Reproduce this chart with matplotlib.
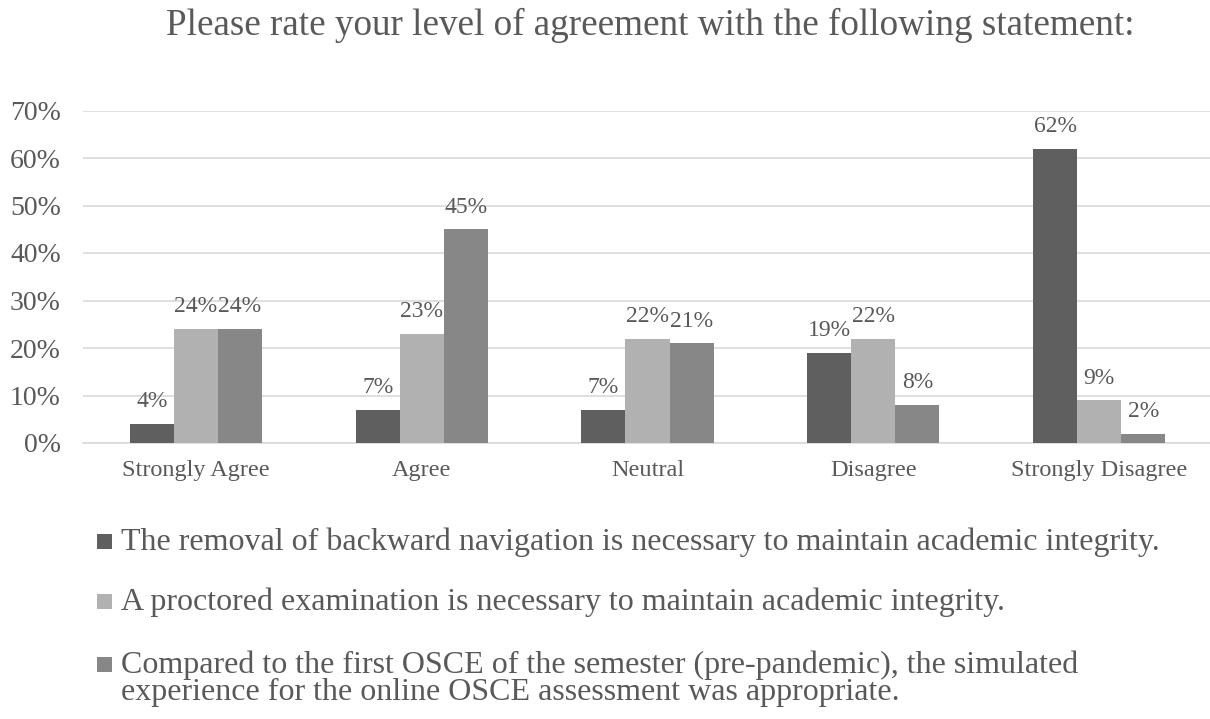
import matplotlib.pyplot as plt
import numpy as np
from matplotlib.patches import Rectangle

plt.rcParams["font.family"] = ["Liberation Serif", "DejaVu Serif"]

categories = ["Strongly Agree", "Agree", "Neutral", "Disagree", "Strongly Disagree"]
series_labels = [
    "The removal of backward navigation is necessary to maintain academic integrity.",
    "A proctored examination is necessary to maintain academic integrity.",
    "Compared to the first OSCE of the semester (pre-pandemic), the simulated\n"
    "experience for the online OSCE assessment was appropriate.",
]
removal = [4, 7, 7, 19, 62]
proctored = [24, 23, 22, 22, 9]
osce = [24, 45, 21, 8, 2]
colors = ["#5f5f5f", "#b1b1b1", "#878787"]
text_col = "#595959"

W, H = 1210, 719
fig = plt.figure(figsize=(W / 100, H / 100), dpi=100)
# plot area in pixels: x 83..1212, y 110.5..443
ax = fig.add_axes([83 / W, (H - 443) / H, 1129 / W, 332.5 / H])

x = np.arange(len(categories))
bw = 0.195
for i, (vals, c) in enumerate(zip([removal, proctored, osce], colors)):
    pos = x + (i - 1) * bw
    ax.bar(pos, vals, width=bw, color=c, zorder=3)
    for p, v in zip(pos, vals):
        ax.annotate(f"{v}%", (p, v), xytext=(0, 12), textcoords="offset points",
                    ha="center", va="baseline", fontsize=17, color=text_col)

ax.set_xlim(-0.5, 4.5)
ax.set_ylim(0, 70)
ax.set_yticks(range(0, 71, 10))
ax.set_yticklabels([f"{v}%" for v in range(0, 71, 10)])
ax.set_xticks(x)
ax.set_xticklabels(categories)
ax.tick_params(axis="y", length=0, labelsize=20, labelcolor=text_col, pad=16)
ax.tick_params(axis="x", length=0, labelsize=17.5, labelcolor=text_col, pad=12)
ax.grid(axis="y", color="#d9d9d9", linewidth=1.2, zorder=0)
for s in ["top", "right", "left"]:
    ax.spines[s].set_visible(False)
ax.spines["bottom"].set_color("#d9d9d9")
ax.spines["bottom"].set_linewidth(1.2)

fig.text(650 / W, 1 - 35 / H, "Please rate your level of agreement with the following statement:",
         ha="center", va="baseline", fontsize=26.7, color=text_col)

# legend drawn by hand: square aligned with first line of each entry
baselines = [550, 610, 673]
line_gap = 27
for label, c, base in zip(series_labels, colors, baselines):
    fig.add_artist(Rectangle((97 / W, 1 - (base - 1) / H), 15 / W, 15 / H,
                             transform=fig.transFigure, facecolor=c, edgecolor="none"))
    for k, line in enumerate(label.split("\n")):
        fig.text(121 / W, 1 - (base + k * line_gap) / H, line, ha="left", va="baseline",
                 fontsize=23, color=text_col)

fig.savefig("out.png", dpi=100)
